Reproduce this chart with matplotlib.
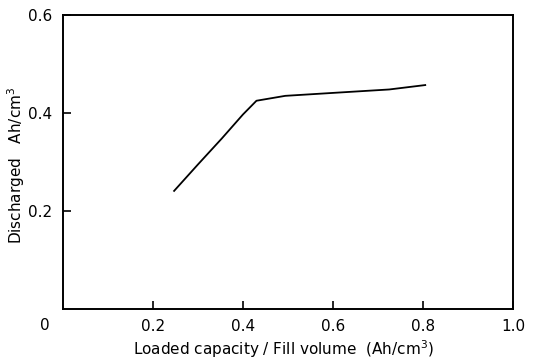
import matplotlib
matplotlib.use("Agg")
import matplotlib.pyplot as plt

x_vals = [0.247, 0.30, 0.353, 0.40, 0.43, 0.494, 0.60, 0.725, 0.805]
y_vals = [0.241, 0.295, 0.348, 0.397, 0.425, 0.435, 0.441, 0.448, 0.457]
x_ticks = [0.2, 0.4, 0.6, 0.8, 1.0]
x_tick_labels = ["0.2", "0.4", "0.6", "0.8", "1.0"]
y_ticks = [0.2, 0.4, 0.6]
y_tick_labels = ["0.2", "0.4", "0.6"]

plt.rcParams['font.family'] = ['DejaVu Sans']
fig = plt.figure(figsize=(5.38, 3.62), dpi=100)
ax = fig.add_axes([0.117, 0.1464, 0.8365, 0.8122])
ax.plot(x_vals, y_vals, color='black', lw=1.3)
ax.set_xlim(0, 1.0)
ax.set_ylim(0, 0.6)
for s in ax.spines.values():
    s.set_linewidth(1.4)
ax.set_xticks(x_ticks)
ax.set_xticklabels(x_tick_labels, fontsize=11)
ax.set_yticks(y_ticks)
ax.set_yticklabels(y_tick_labels, fontsize=11)
ax.tick_params(direction='in', length=6, width=1.2, pad=7)
ax.tick_params(axis='y', pad=8)
ax.text(-0.04, -0.032, "0", transform=ax.transAxes, ha='center', va='top', fontsize=11)
ax.set_xlabel("Loaded capacity / Fill volume  (Ah/cm$^3$)", fontsize=11)
ax.set_ylabel("Discharged   Ah/cm$^3$", fontsize=11)
ax.xaxis.set_label_coords(0.49, -0.135, transform=ax.transAxes)
ax.yaxis.set_label_coords(-0.103, 0.49, transform=ax.transAxes)
ax.xaxis.label.set_va('center')
ax.yaxis.label.set_va('center')
fig.savefig("out.png", dpi=100)
